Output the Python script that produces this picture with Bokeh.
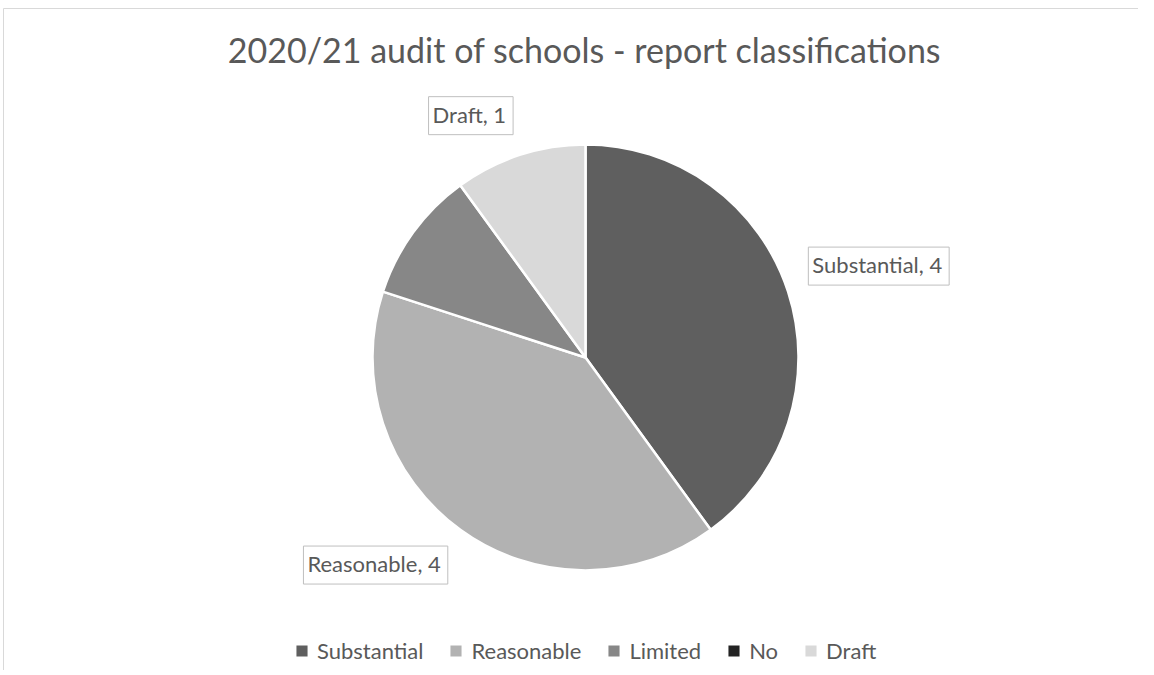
import math
from bokeh.plotting import figure
from bokeh.models import ColumnDataSource, Range1d, Legend, LegendItem
from bokeh.core.properties import value
from bokeh.embed import file_html
from bokeh.resources import INLINE

# ---- data ----
categories = ["Substantial", "Reasonable", "Limited", "No", "Draft"]
counts = [4, 4, 1, 0, 1]
colors = ["#5f5f5f", "#b2b2b2", "#878787", "#232323", "#d9d9d9"]
labelled = ["Substantial", "Reasonable", "Draft"]
title_text = "2020/21 audit of schools - report classifications"

# ---- layout ----
W, H = 1138, 670
CX, CY, R = 585, 313, 213
FONT = "Lato"
TXT = "#595959"

total = sum(counts)
starts, ends, mids = [], [], []
cum = 0.0
for c in counts:
    a0 = math.pi / 2 - 2 * math.pi * (cum + c) / total
    a1 = math.pi / 2 - 2 * math.pi * cum / total
    starts.append(a0)
    ends.append(a1)
    mids.append((a0 + a1) / 2)
    cum += c

p = figure(width=W, height=H, output_backend="svg", toolbar_location=None,
           x_range=Range1d(0, W), y_range=Range1d(0, H), min_border=0)
p.axis.visible = False
p.grid.visible = False
p.outline_line_color = None
p.background_fill_color = "white"
p.border_fill_color = "white"

# chart-area border (left and top edges visible)
p.segment(x0=[3, 3], y0=[H - 8, H - 8], x1=[3, W], y1=[0, H - 8],
          line_color="#d9d9d9", line_width=1)

renderers = []
for cat, v, col, a0, a1 in zip(categories, counts, colors, starts, ends):
    s = ColumnDataSource(dict(x=[CX], y=[CY], start=[a0], end=[a1]))
    r = p.wedge(x="x", y="y", radius=R if v > 0 else 0,
                start_angle="start", end_angle="end",
                fill_color=col, line_color="white", line_width=2.5, source=s)
    renderers.append(r)

# data labels
lx, ly, lt, la, lb, lyo = [], [], [], [], [], []
for cat, v, m in zip(categories, counts, mids):
    if cat not in labelled:
        continue
    d = 1.1 * R
    lt.append(f"{cat}, {v}")
    lx.append(CX + d * math.cos(m))
    ly.append(CY + d * math.sin(m))
    if math.cos(m) > 0.3:
        la.append("left"); lb.append("middle"); lyo.append(-19)
    elif math.sin(m) > 0.8:
        la.append("right"); lb.append("bottom"); lyo.append(0)
    else:
        la.append("right"); lb.append("middle"); lyo.append(18)

lsrc = ColumnDataSource(dict(x=lx, y=ly, t=lt, a=la, b=lb, yo=lyo))
p.text(x="x", y="y", text="t", source=lsrc, text_align="a", text_baseline="b",
       y_offset="yo", text_font=value(FONT), text_font_size="22px", text_color=TXT,
       background_fill_color="white", border_line_color="#bfbfbf",
       border_line_width=1, padding=[4, 7, 4, 7])

# title
p.text(x=[584], y=[H - 49], text=[title_text], text_align="center",
       text_baseline="middle", text_font=value(FONT), text_font_size="34px",
       text_color=TXT)

# legend
items = [LegendItem(label=c, renderers=[r]) for c, r in zip(categories, renderers)]
leg = Legend(items=items, orientation="horizontal", location=(293, 6),
             glyph_width=17, glyph_height=17, label_standoff=7, spacing=24,
             padding=0, margin=0, border_line_color=None, background_fill_alpha=0,
             label_text_font=FONT, label_text_font_size="22px",
             label_text_color=TXT, label_height=20, label_text_baseline="middle")
p.add_layout(leg, "center")

open("out.html", "w").write(file_html(p, INLINE))
